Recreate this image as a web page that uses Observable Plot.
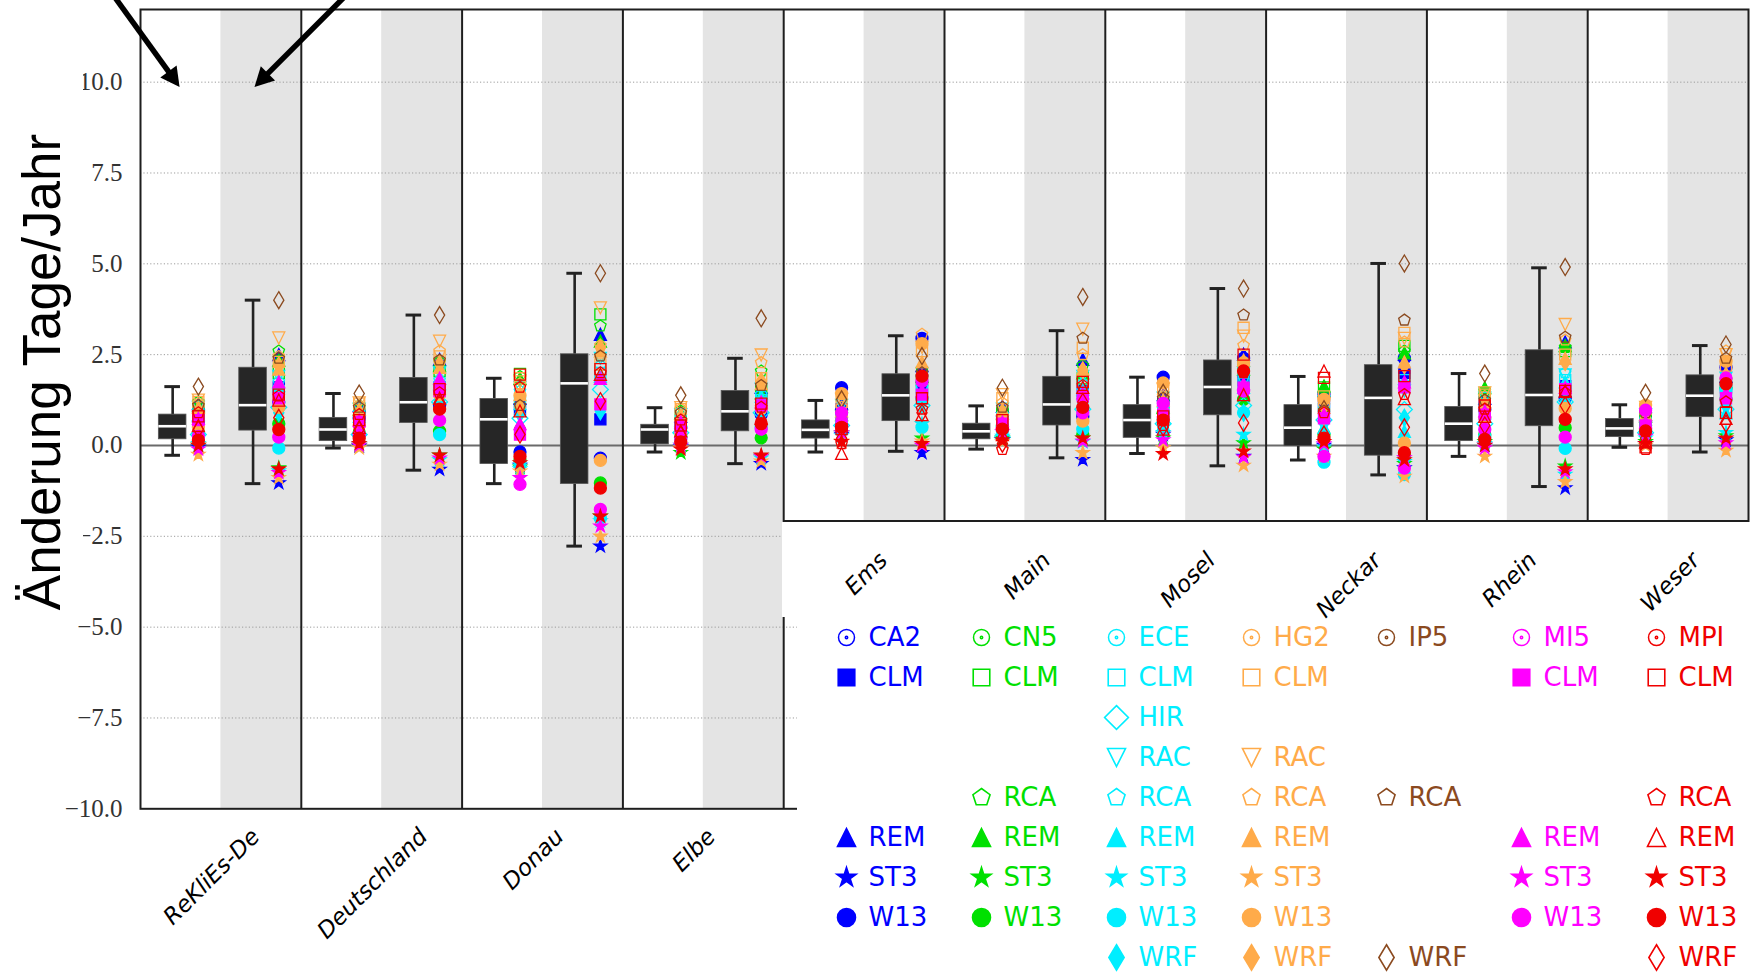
<!DOCTYPE html>
<html><head><meta charset="utf-8">
<script src="https://cdn.jsdelivr.net/npm/d3@7"></script>
<script src="https://cdn.jsdelivr.net/npm/@observablehq/plot@0.6"></script>
<style>
html,body{margin:0;padding:0;background:#fff;}
#wrap{position:relative;width:1760px;height:976px;overflow:hidden;background:#fff;}
#wrap > *{position:absolute;}
</style></head><body><div id="wrap"></div>
<script>
// ---------------- DATA ----------------
const regions = ["ReKliEs-De","Deutschland","Donau","Elbe","Ems","Main","Mosel","Neckar","Rhein","Weser"];
const periods = ["nah","fern"]; // white half, grey half

// box statistics (whisker low, Q1, median, Q3, whisker high) per region
const nahMin    = [-0.27,-0.07,-1.05,-0.18,-0.18,-0.10,-0.22,-0.40,-0.30,-0.05];
const nahQ1     = [0.17,0.12,-0.51,0.03,0.19,0.17,0.21,-0.02,0.12,0.23];
const nahMedian = [0.53,0.44,0.72,0.44,0.43,0.39,0.70,0.49,0.60,0.47];
const nahQ3     = [0.85,0.76,1.28,0.57,0.69,0.60,1.11,1.11,1.06,0.73];
const nahMax    = [1.62,1.43,1.85,1.04,1.24,1.09,1.88,1.90,1.98,1.12];
const fernMin    = [-1.05,-0.68,-2.77,-0.50,-0.16,-0.34,-0.56,-0.81,-1.13,-0.18];
const fernQ1     = [0.41,0.62,-1.06,0.39,0.67,0.55,0.83,-0.28,0.53,0.78];
const fernMedian = [1.11,1.19,1.71,0.94,1.38,1.13,1.61,1.31,1.39,1.37];
const fernQ3     = [2.14,1.86,2.51,1.50,1.96,1.89,2.34,2.21,2.62,1.93];
const fernMax    = [4.00,3.59,4.74,2.40,3.02,3.16,4.32,5.01,4.89,2.75];

// ensemble members (GCM-RCM)
const gcms = ["CA2","CN5","ECE","HG2","IP5","MI5","MPI"];
const gcmColors = ["#0000ff","#00e000","#00eeff","#ffab4a","#8b4a1f","#ff00ff","#f00000"];
const legendRows = ["GCM","CLM","HIR","RAC","RCA","REM","ST3","W13","WRF"];
const members = ["CA2-CLM","CA2-REM","CA2-ST3","CA2-W13",
  "CN5-CLM","CN5-RCA","CN5-REM","CN5-ST3","CN5-W13",
  "ECE-CLM","ECE-HIR","ECE-RAC","ECE-RCA","ECE-REM","ECE-ST3","ECE-W13","ECE-WRF",
  "HG2-CLM","HG2-RAC","HG2-RCA","HG2-REM","HG2-ST3","HG2-W13","HG2-WRF",
  "IP5-RCA","IP5-WRF",
  "MI5-CLM","MI5-REM","MI5-ST3","MI5-W13",
  "MPI-CLM","MPI-RCA","MPI-REM","MPI-ST3","MPI-W13","MPI-WRF"];
const memberFilled = [1,1,1,1, 0,0,1,1,1, 0,0,0,0,1,1,1,1, 0,0,0,1,1,1,1, 0,0, 1,1,1,1, 0,0,0,1,1,0];

// member values (Änderung Tage/Jahr), same order as members
const rekliesNah = [0.9,1.15,-0.05,0.65, 1.0,1.2,1.1,0.0,0.35, 0.8,0.3,1.05,0.95,0.85,0.05,0.3,0.6, 1.2,1.25,1.15,1.05,-0.25,0.5,0.85, 1.1,1.62, 0.7,0.75,-0.1,0.25, 0.8,0.9,0.55,0.0,0.15,0.45];
const rekliesFern = [1.6,2.5,-1.03,1.2, 2.0,2.6,2.35,-0.62,0.6, 1.5,1.05,1.9,1.75,1.65,-0.7,-0.07,0.9, 2.3,2.96,2.45,2.1,-0.89,1.05,2.2, 2.4,4.0, 1.3,1.75,-0.75,0.23, 1.4,1.36,1.25,-0.65,0.44,0.76];
const deutschlandNah = [0.85,1.1,-0.02,0.75, 0.95,1.1,1.0,0.0,0.35, 0.75,0.3,1.0,0.9,0.8,0.05,0.3,0.55, 1.15,1.17,1.1,1.0,-0.07,0.55,0.8, 1.05,1.43, 0.65,0.7,0.0,0.3, 0.7,0.85,0.5,0.05,0.2,0.45];
const deutschlandFern = [1.6,2.37,-0.66,1.1, 2.05,2.3,2.2,-0.27,0.39, 1.6,1.2,2.0,1.8,1.7,-0.4,0.3,1.25, 2.45,2.87,2.6,2.15,-0.52,1.4,2.25, 2.35,3.59, 1.5,1.85,-0.35,0.69, 1.55,1.45,1.3,-0.27,1.0,1.15];
const donauNah = [1.0,1.3,-0.55,-0.18, 1.97,1.9,1.85,-0.6,-0.4, 1.2,0.75,1.6,1.5,1.15,-0.65,-0.5,0.87, 1.85,1.75,1.7,1.4,-0.71,1.38,1.05, 1.1,0.49, 0.3,0.6,-0.89,-1.07, 1.95,1.6,0.95,-0.48,-0.3,0.3];
const donauFern = [0.72,3.06,-2.77,-0.35, 3.61,3.29,2.87,-1.95,-1.03, 2.0,1.54,2.4,2.2,1.9,-2.08,-2.0,0.94, 2.23,3.79,2.75,2.6,-2.5,-0.41,2.69, 2.46,4.74, 1.13,1.85,-2.22,-1.76, 2.1,2.0,1.96,-1.95,-1.17,1.22];
const elbeNah = [0.6,0.8,-0.05,0.49, 0.75,0.95,0.9,-0.2,0.25, 0.6,0.35,0.85,0.8,0.7,0.0,0.2,0.45, 1.0,1.04,1.0,0.85,-0.07,0.33,0.65, 0.9,1.38, 0.5,0.65,0.0,0.17, 0.55,0.7,0.4,-0.1,0.1,0.3];
const elbeFern = [1.3,1.6,-0.5,0.85, 1.5,2.05,1.45,-0.3,0.21, 1.25,0.9,1.55,1.4,1.35,-0.35,0.5,0.94, 1.85,2.49,2.28,1.7,-0.43,1.02,1.77, 1.65,3.5, 1.1,1.2,-0.3,0.45, 1.15,1.05,0.75,-0.27,0.6,0.7];
const emsNah = [1.0,1.15,0.3,1.59, 0.8,0.9,0.85,0.35,0.9, 0.75,0.55,1.1,0.8,0.7,0.26,0.6,0.65, 1.2,1.27,1.05,0.95,0.12,1.43,0.7, 0.85,1.27, 0.6,0.7,0.35,0.9, 0.45,0.05,-0.22,0.1,0.5,0.2];
const emsFern = [1.6,2.2,-0.2,2.95, 1.8,2.1,1.9,0.2,1.29, 1.5,1.1,1.75,1.6,1.45,0.59,0.5,1.17, 2.6,2.7,3.06,2.3,0.12,2.8,1.85, 2.0,2.46, 1.4,1.5,0.0,1.77, 1.3,1.0,0.85,0.05,1.91,0.9];
const mainNah = [0.85,1.08,0.15,0.8, 0.9,0.95,0.9,0.2,0.55, 0.75,0.23,1.0,0.85,0.7,0.25,0.4,0.6, 1.3,1.4,1.17,1.0,0.1,0.7,0.75, 1.05,1.59, 0.6,0.65,0.37,0.49, 0.7,-0.11,0.3,0.15,0.45,0.05];
const mainFern = [1.5,2.37,-0.39,0.8, 1.85,2.2,2.0,0.2,0.3, 1.4,1.0,1.9,1.7,1.55,0.1,0.45,1.15, 2.69,3.2,2.5,2.1,-0.2,0.67,2.07, 2.95,4.09, 1.35,1.45,0.12,0.9, 1.75,1.65,1.6,0.2,1.05,1.2];
const moselNah = [1.2,1.4,0.3,1.88, 1.1,1.0,1.05,0.2,0.9, 0.95,0.6,1.3,1.0,0.9,0.35,0.4,0.75, 1.5,1.55,1.35,1.25,-0.07,1.72,1.0, 1.3,1.45, 0.85,0.95,0.15,1.16, 0.8,0.55,0.45,-0.23,0.7,0.5];
const moselFern = [1.8,2.51,-0.3,2.4, 2.2,2.3,2.1,0.07,1.27, 1.7,1.1,2.0,1.9,1.6,0.3,0.9,0.9, 3.24,3.01,2.75,2.35,-0.55,2.28,2.15, 3.59,4.32, 1.59,1.7,-0.32,1.5, 2.5,2.0,1.4,-0.16,2.05,0.62];
const neckarNah = [1.2,1.5,0.0,1.41, 1.6,1.3,1.64,-0.1,0.3, 1.0,0.7,1.2,0.9,0.5,-0.05,-0.46,0.62, 1.35,1.15,1.1,1.05,-0.3,1.27,0.8, 0.95,1.0, 0.75,0.85,0.04,-0.3, 1.86,0.9,2.05,0.1,0.2,0.3];
const neckarFern = [2.0,2.51,-0.62,2.4, 2.74,2.6,2.55,-0.5,-0.3, 1.8,0.99,1.5,1.7,0.39,-0.45,-0.8,0.76, 3.1,2.95,2.85,2.3,-0.85,0.07,2.21, 3.45,5.01, 1.6,1.75,-0.34,-0.62, 1.91,1.4,1.29,-0.4,-0.2,0.5];
const rheinNah = [1.2,1.3,0.0,0.99, 1.45,1.5,1.59,0.1,0.3, 1.0,0.6,1.3,1.1,0.9,0.05,0.25,0.7, 1.4,1.45,1.35,1.2,-0.3,0.76,1.05, 1.25,1.98, 0.85,0.95,-0.07,0.44, 1.1,1.0,0.8,0.0,0.17,0.55];
const rheinFern = [1.63,2.85,-1.17,1.3, 2.6,2.7,2.75,-0.57,0.49, 1.8,1.2,1.94,2.0,1.75,-0.8,-0.08,1.2, 2.5,3.33,2.9,2.4,-1.0,1.02,2.3, 2.98,4.91, 1.55,1.6,-0.73,0.23, 1.5,1.45,1.5,-0.65,0.72,1.1];
const weserNah = [0.7,0.85,0.05,0.9, 0.75,0.8,0.8,0.1,0.55, 0.6,0.35,0.85,0.7,0.6,0.2,0.3,0.5, 1.0,1.05,0.95,0.85,0.0,1.11,0.75, 0.9,1.45, 0.55,0.65,0.25,0.97, -0.05,-0.11,0.1,0.05,0.4,0.2];
const weserFern = [1.6,1.9,0.15,2.15, 1.7,1.8,1.75,0.26,1.27, 1.4,1.0,1.85,1.6,0.9,0.35,1.55,1.1, 2.2,2.5,2.6,2.0,-0.14,2.32,1.65, 2.4,2.78, 1.3,1.45,0.07,1.86, 0.9,1.2,0.75,0.2,1.7,0.6];

// y axis ticks and labels
const yTicks = [-10,-7.5,-5,-2.5,0,2.5,5,7.5,10];
const yTickLabels = ["\u221210.0","\u22127.5","\u22125.0","\u22122.5","0.0","2.5","5.0","7.5","10.0"];
const yTitle = "Änderung Tage/Jahr";

// annotation arrows (data units: region index / Tage)
const arrowNotes = [
  {x1: -0.17, y1: 12.4, x2: 0.243, y2: 9.87},
  {x1: 1.28, y1: 12.4, x2: 0.709, y2: 9.87}
];

// ---------------- LAYOUT ----------------
const W = 1760, H = 976;
const M = {left: 140, right: 12, top: 9, bottom: 167.7};
const yDomain = [-10, 12];
const kx = (W - M.left - M.right) / regions.length;
const ky = (H - M.top - M.bottom) / (yDomain[1] - yDomain[0]);
const BOX_OFF = 0.2, MARK_OFF = 0.36;
const boxHalf = 13.8 / kx, capHalf = 7.8 / kx;
const LABEL_FS = 23;

const memberValues = [rekliesNah, rekliesFern, deutschlandNah, deutschlandFern, donauNah, donauFern,
  elbeNah, elbeFern, emsNah, emsFern, mainNah, mainFern, moselNah, moselFern,
  neckarNah, neckarFern, rheinNah, rheinFern, weserNah, weserFern];
const statsByPeriod = [[nahMin,nahQ1,nahMedian,nahQ3,nahMax],[fernMin,fernQ1,fernMedian,fernQ3,fernMax]];
const columns = [];
regions.forEach((r, i) => periods.forEach((p, k) => {
  const s = statsByPeriod[k];
  columns.push({region: r, period: p,
    bx: i + 0.5 * k + BOX_OFF, mx: i + 0.5 * k + MARK_OFF,
    lo: s[0][i], q1: s[1][i], med: s[2][i], q3: s[3][i], hi: s[4][i],
    values: memberValues[2 * i + k]});
}));

// ---------------- SYMBOLS ----------------
function sym(fn) { return {draw(c, size) { fn(c, 2 * Math.sqrt(size / Math.PI)); }}; }
function poly(c, pts) { pts.forEach(([x, y], k) => k ? c.lineTo(x, y) : c.moveTo(x, y)); c.closePath(); }
const shapes = {
  W13: sym((c, m) => { const r = m / 2; c.moveTo(r, 0); c.arc(0, 0, r, 0, 2 * Math.PI); c.closePath(); }),
  CLM: sym((c, m) => { const h = 0.46 * m; poly(c, [[-h,-h],[h,-h],[h,h],[-h,h]]); }),
  REM: sym((c, m) => { const h = m / 2; poly(c, [[0,-h],[h,h],[-h,h]]); }),
  RAC: sym((c, m) => { const h = m / 2; poly(c, [[0,h],[h,-h],[-h,-h]]); }),
  RCA: sym((c, m) => { const R = m / 2; poly(c, d3.range(5).map(k => { const a = -Math.PI/2 + k*2*Math.PI/5; return [R*Math.cos(a), R*Math.sin(a)]; })); }),
  ST3: sym((c, m) => { const R = 0.56 * m, r = R * 0.382; poly(c, d3.range(10).map(k => { const a = -Math.PI/2 + k*Math.PI/5, rr = k % 2 ? r : R; return [rr*Math.cos(a), rr*Math.sin(a)]; })); }),
  HIR: sym((c, m) => { const h = 0.66 * m; poly(c, [[0,-h],[h,0],[0,h],[-h,0]]); }),
  WRF: sym((c, m) => { const h = 0.707 * m, w = 0.424 * m; poly(c, [[0,-h],[w,0],[0,h],[-w,0]]); })
};
const circleDot = sym((c, m) => { const r = m / 2; c.moveTo(r, 0); c.arc(0, 0, r, 0, 2*Math.PI); c.moveTo(1.2, 0); c.arc(0, 0, 1.2, 0, 2*Math.PI); });
function headSymbol(angle) {
  const ca = Math.cos(angle), sa = Math.sin(angle);
  return sym((c, m) => {
    const L = m, hw = m * 0.53;
    poly(c, [[0,0],[-hw,L],[hw,L]].map(([x, y]) => [x*ca - y*sa, x*sa + y*ca]));
  });
}
const colorOf = g => gcmColors[gcms.indexOf(g)];

// text measuring
const mctx = document.createElement("canvas").getContext("2d");
mctx.font = `italic ${LABEL_FS}px 'DejaVu Sans'`;
const tw = s => mctx.measureText(s).width;
const labelMarks = (list, anchor) => list.map(d => Plot.text([d], {
  x: "x", text: "name", frameAnchor: anchor, rotate: -45, textAnchor: "middle",
  dx: -4, dy: 21 + (tw(d.name) + LABEL_FS) * 0.3536,
  fontSize: LABEL_FS, fontStyle: "italic", fontFamily: "DejaVu Sans", fill: "#000"
}));
const regionLabels = regions.map((name, i) => ({name, x: i + 0.5}));

// arrows
const arrowMarks = arrowNotes.flatMap(a => {
  const vx = (a.x2 - a.x1) * kx, vy = -(a.y2 - a.y1) * ky;
  const len = Math.hypot(vx, vy), ux = vx / len, uy = vy / len;
  const back = 12;
  const shaft = {x1: a.x1, y1: a.y1, x2: a.x2 - ux * back / kx, y2: a.y2 + uy * back / ky};
  const angle = Math.atan2(ux, -uy);
  return [
    Plot.link([shaft], {x1: "x1", y1: "y1", x2: "x2", y2: "y2", stroke: "#000", strokeWidth: 5.5}),
    Plot.dot([a], {x: "x2", y: "y2", r: 9.5, symbol: headSymbol(angle), fill: "#000", stroke: "none"})
  ];
});

// ---------------- MAIN PLOT ----------------
const tickLabelOf = new Map(yTicks.map((t, i) => [t, yTickLabels[i]]));
const gridTicks = yTicks.filter(t => t !== 0 && t !== yDomain[0]);
const main = Plot.plot({
  width: W, height: H,
  marginLeft: M.left, marginRight: M.right, marginTop: M.top, marginBottom: M.bottom,
  x: {domain: [0, regions.length], axis: null},
  y: {domain: yDomain, ticks: yTicks, tickFormat: d => tickLabelOf.get(d), tickSize: 0, tickPadding: 18, label: null},
  style: {fontFamily: "'Liberation Serif', serif", fontSize: "25px", color: "#333", background: "white"},
  marks: [
    Plot.rect(regions, {x1: (d, i) => i + 0.5, x2: (d, i) => i + 1, y1: yDomain[0], y2: yDomain[1], fill: "#e4e4e4"}),
    Plot.ruleY(gridTicks, {stroke: "#9c9c9c", strokeWidth: 1, strokeDasharray: "1.2,2.2"}),
    Plot.ruleY([0], {stroke: "#6a6a6a", strokeWidth: 2}),
    Plot.ruleX(columns, {x: "bx", y1: "lo", y2: "q1", stroke: "#222", strokeWidth: 2.6}),
    Plot.ruleX(columns, {x: "bx", y1: "q3", y2: "hi", stroke: "#222", strokeWidth: 2.6}),
    Plot.ruleY(columns, {y: "lo", x1: d => d.bx - capHalf, x2: d => d.bx + capHalf, stroke: "#222", strokeWidth: 3}),
    Plot.ruleY(columns, {y: "hi", x1: d => d.bx - capHalf, x2: d => d.bx + capHalf, stroke: "#222", strokeWidth: 3}),
    Plot.rect(columns, {x1: d => d.bx - boxHalf, x2: d => d.bx + boxHalf, y1: "q1", y2: "q3", fill: "#262626", stroke: "#555", strokeWidth: 0.8}),
    Plot.ruleY(columns, {y: "med", x1: d => d.bx - boxHalf, x2: d => d.bx + boxHalf, stroke: "#fff", strokeWidth: 2.6}),
    ...members.map((name, j) => {
      const [g, rcm] = name.split("-");
      const col = colorOf(g);
      return Plot.dot(columns, {x: "mx", y: d => d.values[j], r: 6, symbol: shapes[rcm],
        fill: memberFilled[j] ? col : "none", stroke: col, strokeWidth: 1.3});
    }),
    Plot.ruleX(d3.range(1, regions.length), {stroke: "#1e1e1e", strokeWidth: 2}),
    Plot.frame({stroke: "#1e1e1e", strokeWidth: 2}),
    ...labelMarks(regionLabels.slice(0, 4), "bottom"),
    ...arrowMarks
  ]
});
const wrap = document.getElementById("wrap");
main.style.left = "0px"; main.style.top = "0px";
wrap.append(main);

function box(l, t, w, h) {
  const d = document.createElement("div");
  Object.assign(d.style, {left: l + "px", top: t + "px", width: w + "px", height: h + "px", background: "#fff"});
  wrap.append(d);
}
// white strip beside the y axis title (clips the leftmost tick glyphs like the source)
box(0, 0, 83, 600);

// y-axis title
const ns = "http://www.w3.org/2000/svg";
const tsvg = document.createElementNS(ns, "svg");
tsvg.setAttribute("width", 120); tsvg.setAttribute("height", H);
tsvg.style.left = "0px"; tsvg.style.top = "0px";
const tt = document.createElementNS(ns, "text");
tt.setAttribute("transform", "translate(60,372) rotate(-90)");
tt.setAttribute("text-anchor", "middle");
tt.setAttribute("font-family", "'Liberation Sans', Arial, sans-serif");
tt.setAttribute("font-size", "53");
tt.textContent = yTitle;
tsvg.append(tt);
wrap.append(tsvg);

// lower-right cut-out (legend area)
box(782, 521.5, 978, 95);
box(797, 616, 963, 360);

// frame bottom + labels for the right-hand regions
const firstRight = 4;
const lower = Plot.plot({
  width: 978, height: 140, marginLeft: 1, marginRight: 12, marginTop: 1.5, marginBottom: 0,
  x: {domain: [firstRight, regions.length], axis: null},
  y: {domain: [0, 1], axis: null},
  style: {background: "transparent", overflow: "visible"},
  marks: [
    Plot.ruleY([1], {x1: firstRight, x2: regions.length, stroke: "#1e1e1e", strokeWidth: 2}),
    ...labelMarks(regionLabels.slice(firstRight), "top")
  ]
});
lower.style.left = "782px"; lower.style.top = "519px";
wrap.append(lower);

// legend
const legendEntries = members.map((name, j) => { const [g, rcm] = name.split("-"); return {gcm: g, row: rcm, label: rcm, filled: memberFilled[j]}; });
const headerEntries = gcms.map(g => ({gcm: g, row: "GCM", label: g}));
const legend = Plot.plot({
  width: 940, height: 376, marginLeft: 23, marginRight: 101.4, marginTop: 33.5, marginBottom: 15.5,
  x: {type: "point", domain: gcms, padding: 0, axis: null},
  y: {type: "point", domain: legendRows, padding: 0, axis: null},
  style: {background: "transparent", overflow: "visible"},
  marks: [
    ...headerEntries.map(e => Plot.dot([e], {x: "gcm", y: "row", r: 8, symbol: circleDot, fill: "none", stroke: colorOf(e.gcm), strokeWidth: 1.5})),
    ...legendEntries.map(e => Plot.dot([e], {x: "gcm", y: "row", r: 9, symbol: shapes[e.row],
      fill: e.filled ? colorOf(e.gcm) : "none", stroke: colorOf(e.gcm), strokeWidth: 1.6})),
    ...gcms.map(g => Plot.text([...headerEntries, ...legendEntries].filter(e => e.gcm === g),
      {x: "gcm", y: "row", text: "label", dx: 22, textAnchor: "start", fill: colorOf(g),
       fontSize: 26, fontFamily: "DejaVu Sans"}))
  ]
});
legend.style.left = "820px"; legend.style.top = "600px";
wrap.append(legend);
</script>
</body></html>
